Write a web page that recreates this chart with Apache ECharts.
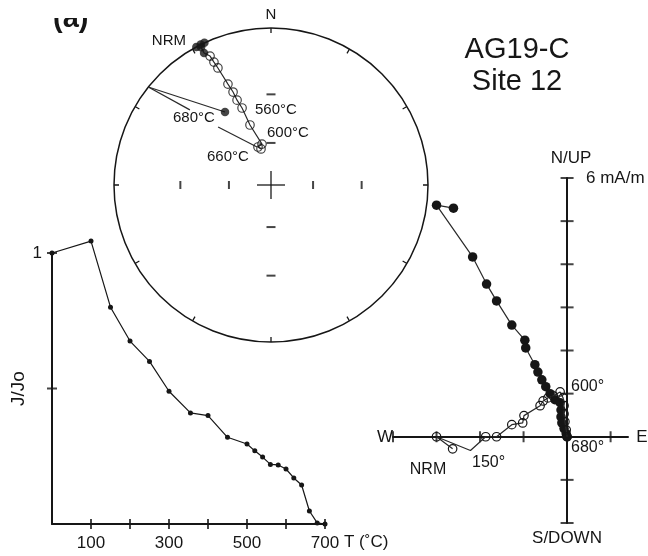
<!DOCTYPE html>
<html><head><meta charset="utf-8">
<script src="https://cdn.jsdelivr.net/npm/echarts@6/dist/echarts.min.js"></script>
<style>html,body{margin:0;padding:0;background:#fff}#c{width:648px;height:556px}</style>
</head><body><div id="c"></div>
<script>
// ---------- (1) Thermal demagnetization curve J/Jo ----------
const tempSteps = [0,100,150,200,250,300,355,400,450,500,520,540,560,580,600,620,640,660,680,700];
const jRatio    = [1.0,1.044,0.80,0.675,0.60,0.49,0.41,0.40,0.32,0.295,0.27,0.247,0.22,0.218,0.203,0.17,0.144,0.048,0.004,0.0];
const tempTicks  = [100,200,300,400,500,600,700];
const tempLabels = [100,300,500,700];
const jTicks  = [0.5,1];
const jLabels = [1];

// ---------- (2) Stereonet: declination / inclination (deg) ----------
const nrmDec = [331.6,333.4,334.9,333.1,333.1];
const nrmInc = [0,0,0,0.9,3.4];
const upDec  = [334.7,335.1,335.6,336.9,337.8,338.2,339.4,340.7,347.6,341.1,344.5];
const upInc  = [-5.5,-8.4,-11.4,-20.1,-24.8,-29.6,-34.7,-45.9,-60.1,-61.3,-63.2];
const s680Dec = [327.8];
const s680Inc = [32.4];
const leadADec = [308.6,327.8], leadAInc = [0,32.4];
const leadBDec = [308.6,312.8], leadBInc = [0,19.7];
const leadCDec = [317.6,339.8], leadCInc = [36.9,61.1];
const netTickInc = [60,30];

// ---------- (3) Zijderveld diagram (mA/m) ----------
const horE = [-2.61,-3.0,-2.17,-1.85,-1.62,-1.27,-0.97,-0.95,-0.74,-0.67,-0.58,-0.49,-0.39,-0.28,-0.16,-0.14,-0.14,-0.12,-0.07,-0.02,0];
const horN = [5.30,5.37,4.17,3.54,3.15,2.59,2.24,2.06,1.67,1.50,1.32,1.16,1.00,0.86,0.79,0.62,0.46,0.32,0.19,0.07,0];
const verE = [-2.63,-3.0,-2.22,-1.87,-1.62,-1.27,-1.02,-0.99,-0.62,-0.55,-0.44,-0.32,-0.16,-0.09,-0.07,-0.07,-0.05,-0.02,0];
const verUp= [-0.28,0.0,-0.32,0.0,0.0,0.28,0.32,0.49,0.72,0.83,0.90,0.95,1.04,0.90,0.72,0.53,0.35,0.16,0];
const zijTicksE = [-4,-3,-2,-1,1];
const zijTicksN = [-2,-1,1,2,3,4,5,6];

const INK = '#161616';
const FONT = '"Liberation Sans", Arial, sans-serif';
const wulff = inc => Math.tan((90 - Math.abs(inc)) / 2 * Math.PI / 180);
const polarPts = (decs, incs) => decs.map((d, i) => [wulff(incs[i]), d]);

const txt = (text, x, y, size, align, vAlign, weight) => ({
  type: 'text', x: x, y: y, z: 100,
  style: { text: text, fill: INK, font: (weight || 'normal') + ' ' + size + 'px ' + FONT,
           align: align, verticalAlign: vAlign || 'middle', textAlign: align, textVerticalAlign: vAlign || 'middle' }
});

const chart = echarts.init(document.getElementById('c'));
const option = {
  animation: false,
  backgroundColor: '#fff',
  textStyle: { fontFamily: FONT },
  polar: { center: [271, 185], radius: 157 },
  angleAxis: {
    type: 'value', min: 0, max: 360, interval: 30, startAngle: 90, clockwise: true,
    axisLine: { lineStyle: { color: INK, width: 1.5 } },
    axisTick: { show: true, inside: true, length: 5, lineStyle: { color: INK, width: 1.3 } },
    axisLabel: { formatter: v => (v === 0 ? 'N' : ''), fontSize: 15, color: INK, margin: 6 },
    splitLine: { show: false }
  },
  radiusAxis: { type: 'value', min: 0, max: 1, show: false,
    axisLine: { show: false }, axisTick: { show: false }, axisLabel: { show: false }, splitLine: { show: false } },
  grid: [
    { left: 52, top: 253, width: 273, height: 271 },
    { left: 393, top: 178, width: 235, height: 345 }
  ],
  xAxis: [
    { gridIndex: 0, type: 'value', min: 0, max: 700, interval: 100,
      axisLine: { onZero: false, lineStyle: { color: INK, width: 2 } },
      axisTick: { show: false }, splitLine: { show: false },
      axisLabel: { formatter: v => (tempLabels.includes(v) ? String(v) : ''), fontSize: 17, color: INK, margin: 11 } },
    { gridIndex: 1, type: 'value', min: -4, max: 1.4,
      axisLine: { onZero: true, lineStyle: { color: INK, width: 2 } },
      axisTick: { show: false }, axisLabel: { show: false }, splitLine: { show: false } }
  ],
  yAxis: [
    { gridIndex: 0, type: 'value', min: 0, max: 1, interval: 0.5,
      name: 'J/Jo', nameLocation: 'middle', nameGap: 22, nameRotate: 90,
      nameTextStyle: { fontSize: 19, color: INK },
      axisLine: { onZero: false, lineStyle: { color: INK, width: 2 } },
      axisTick: { show: false }, splitLine: { show: false },
      axisLabel: { formatter: v => (jLabels.includes(v) ? String(v) : ''), fontSize: 17, color: INK, margin: 10 } },
    { gridIndex: 1, type: 'value', min: -2, max: 6,
      axisLine: { onZero: true, lineStyle: { color: INK, width: 2 } },
      axisTick: { show: false }, axisLabel: { show: false }, splitLine: { show: false } }
  ],
  series: [
    // J/Jo curve
    { type: 'line', xAxisIndex: 0, yAxisIndex: 0, clip: false, z: 3,
      data: tempSteps.map((t, i) => [t, jRatio[i]]),
      symbol: 'circle', symbolSize: 5, showAllSymbol: true,
      itemStyle: { color: INK }, lineStyle: { color: INK, width: 1.2 } },
    { type: 'scatter', xAxisIndex: 0, yAxisIndex: 0, clip: false, silent: true,
      data: tempTicks.map(v => [v, 0]), symbol: 'rect', symbolSize: [2, 10], itemStyle: { color: INK } },
    { type: 'scatter', xAxisIndex: 0, yAxisIndex: 0, clip: false, silent: true,
      data: jTicks.map(v => [0, v]), symbol: 'rect', symbolSize: [10, 2], itemStyle: { color: INK } },

    // Zijderveld
    { type: 'scatter', xAxisIndex: 1, yAxisIndex: 1, clip: false, silent: true,
      data: zijTicksE.map(v => [v, 0]), symbol: 'rect', symbolSize: [2, 11], itemStyle: { color: INK } },
    { type: 'scatter', xAxisIndex: 1, yAxisIndex: 1, clip: false, silent: true,
      data: zijTicksN.map(v => [0, v]), symbol: 'rect', symbolSize: [13, 2], itemStyle: { color: INK } },
    { type: 'line', xAxisIndex: 1, yAxisIndex: 1, clip: false, z: 4,
      data: horE.map((e, i) => [e, horN[i]]),
      symbol: 'circle', symbolSize: 9.5, showAllSymbol: true,
      itemStyle: { color: INK }, lineStyle: { color: '#2a2a2a', width: 1.2 } },
    { type: 'line', xAxisIndex: 1, yAxisIndex: 1, clip: false, z: 5,
      data: verE.map((e, i) => i === 2 ? { value: [e, verUp[i]], symbol: 'none' } : [e, verUp[i]]),
      symbol: 'circle', symbolSize: 8.5, showAllSymbol: true,
      itemStyle: { color: 'rgba(255,255,255,0)', borderColor: INK, borderWidth: 1.2 },
      lineStyle: { color: '#2a2a2a', width: 1.2 } },

    // Stereonet
    { type: 'line', coordinateSystem: 'polar', polarIndex: 0, z: 3,
      data: polarPts(nrmDec.concat(upDec), nrmInc.concat(upInc)),
      showSymbol: false, symbol: 'none', lineStyle: { color: '#2a2a2a', width: 1.2 } },
    { type: 'line', coordinateSystem: 'polar', z: 3, symbol: 'none',
      data: polarPts(leadADec, leadAInc), lineStyle: { color: '#2a2a2a', width: 1.2 } },
    { type: 'line', coordinateSystem: 'polar', z: 3, symbol: 'none',
      data: polarPts(leadBDec, leadBInc), lineStyle: { color: '#2a2a2a', width: 1.2 } },
    { type: 'line', coordinateSystem: 'polar', z: 3, symbol: 'none',
      data: polarPts(leadCDec, leadCInc), lineStyle: { color: '#2a2a2a', width: 1.2 } },
    { type: 'scatter', coordinateSystem: 'polar', z: 4,
      data: polarPts(nrmDec.concat(s680Dec), nrmInc.concat(s680Inc)),
      symbol: 'circle', symbolSize: 8.5, itemStyle: { color: INK } },
    { type: 'scatter', coordinateSystem: 'polar', z: 5,
      data: polarPts(upDec, upInc),
      symbol: 'circle', symbolSize: 8.5,
      itemStyle: { color: 'rgba(255,255,255,0)', borderColor: INK, borderWidth: 1.2 } },
    { type: 'scatter', coordinateSystem: 'polar', silent: true,
      data: netTickInc.flatMap(v => [[wulff(v), 0], [wulff(v), 180]]),
      symbol: 'rect', symbolSize: [9, 2], itemStyle: { color: INK } },
    { type: 'scatter', coordinateSystem: 'polar', silent: true,
      data: netTickInc.flatMap(v => [[wulff(v), 90], [wulff(v), 270]]),
      symbol: 'rect', symbolSize: [2, 8], itemStyle: { color: INK } },
    { type: 'scatter', coordinateSystem: 'polar', silent: true,
      data: [{ value: [0, 0], symbolSize: [28, 1.6] }, { value: [0, 0], symbolSize: [1.6, 28] }],
      symbol: 'rect', itemStyle: { color: INK } }
  ],
  graphic: [
    txt('(a)', 53, 4, 29, 'left', 'top', 'bold'),
    { type: 'rect', z: 101, shape: { x: 40, y: 0, width: 70, height: 18 }, style: { fill: '#fff' } },
    txt('AG19-C', 517, 50, 29, 'center'),
    txt('Site 12', 517, 82, 29, 'center'),
    // stereonet annotations
    txt('NRM', 186, 41, 15, 'right'),
    txt('560°C', 255, 110, 15, 'left'),
    txt('600°C', 267, 133, 15, 'left'),
    txt('680°C', 173, 118, 15, 'left'),
    txt('660°C', 207, 157, 15, 'left'),
    // J/Jo axis title
    txt('T (˚C)', 344, 542, 17, 'left'),
    // Zijderveld annotations
    txt('N/UP', 571, 158, 17, 'center'),
    txt('6 mA/m', 586, 178, 17, 'left'),
    txt('S/DOWN', 567, 538, 17, 'center'),
    txt('W', 385, 437, 17, 'center'),
    txt('E', 642, 437, 17, 'center'),
    txt('600°', 571, 387, 16, 'left'),
    txt('680°', 571, 448, 16, 'left'),
    txt('150°', 472, 463, 16, 'left'),
    txt('NRM', 428, 470, 16, 'center')
  ]
};
chart.setOption(option);
</script>
</body></html>
